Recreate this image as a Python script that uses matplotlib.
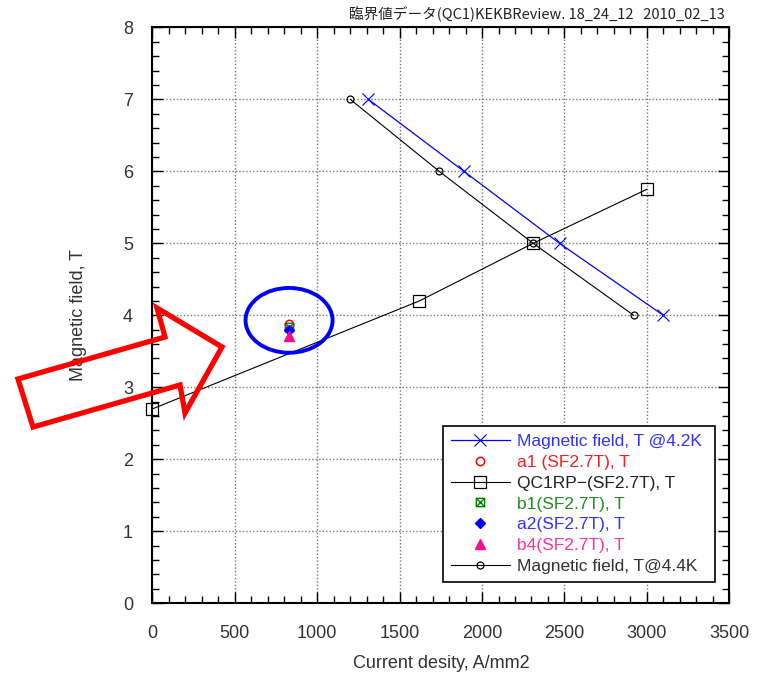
import matplotlib
matplotlib.use('Agg')
import matplotlib.pyplot as plt
from matplotlib.path import Path
from matplotlib.patches import Ellipse, Polygon
from matplotlib.ticker import MultipleLocator

plt.rcParams['font.family'] = ['Liberation Sans', 'Noto Sans CJK JP', 'DejaVu Sans']

# data
j_42 = [1310, 1890, 2470, 3100]
b_42 = [7, 6, 5, 4]
j_44 = [1200, 1740, 2310, 2920]
b_44 = [7, 6, 5, 4]
j_rp = [0, 1620, 2310, 3000]
b_rp = [2.7, 4.2, 5.0, 5.75]
j_pt = 830
b_a1 = 3.88
b_b1 = 3.84
b_a2 = 3.79
b_b4 = 3.71

title = '臨界値データ(QC1)KEKBReview. 18_24_12   2010_02_13'

# square with a cross inside
sqx = Path([(-1, -1), (1, -1), (1, 1), (-1, 1), (-1, -1),
            (-1, -1), (1, 1), (-1, 1), (1, -1)],
           [Path.MOVETO, Path.LINETO, Path.LINETO, Path.LINETO, Path.CLOSEPOLY,
            Path.MOVETO, Path.LINETO, Path.MOVETO, Path.LINETO])

fig = plt.figure(figsize=(7.61, 6.73), dpi=100)
ax = fig.add_axes([0.2003, 0.1036, 0.7580, 0.8558])

ax.plot(j_42, b_42, color='blue', lw=0.9, marker='x', ms=8, mew=0.8,
        label='Magnetic field, T @4.2K')
ax.plot(j_pt, b_a1, ls='none', marker='o', ms=6, mfc='none', mec='red', mew=1.1,
        label='a1 (SF2.7T), T')
ax.plot(j_rp, b_rp, color='black', lw=0.8, marker='s', ms=8, mfc='none', mec='black',
        mew=0.9, clip_on=False, label='QC1RP−(SF2.7T), T')
ax.plot(j_pt, b_b1, ls='none', marker=sqx, ms=6, mfc='none', mec='green', mew=1,
        label='b1(SF2.7T), T')
ax.plot(j_pt, b_a2, ls='none', marker='D', ms=5, color='blue',
        label='a2(SF2.7T), T')
ax.plot(j_pt, b_b4, ls='none', marker='^', ms=7, color='#ff0a8c',
        label='b4(SF2.7T), T')
ax.plot(j_44, b_44, color='black', lw=0.8, marker='o', ms=5, mfc='none', mec='black',
        mew=0.9, label='Magnetic field, T@4.4K')

ax.set_xlim(0, 3500)
ax.set_ylim(0, 8)
ax.xaxis.set_major_locator(MultipleLocator(500))
ax.xaxis.set_minor_locator(MultipleLocator(100))
ax.yaxis.set_major_locator(MultipleLocator(1))
ax.yaxis.set_minor_locator(MultipleLocator(0.2))
ax.tick_params(which='both', direction='in', top=True, right=True, labelsize=13,
               colors='black', labelcolor='#333333')
ax.tick_params(which='major', length=8, width=1)
ax.tick_params(which='minor', length=5, width=1)
ax.tick_params(axis='x', pad=16)
ax.tick_params(axis='y', pad=14)
ax.grid(True, which='major', ls=(0, (1, 1.5)), color='#777777', lw=1)
for s in ax.spines.values():
    s.set_linewidth(1.5)

ax.set_xlabel('Current desity, A/mm2', fontsize=13, color='#333333', labelpad=9)
ax.set_ylabel('Magnetic field, T', fontsize=13, color='#333333', labelpad=26)
fig.text(0.953, 0.979, title, ha='right', va='center', fontsize=10.5,
         family=['Noto Sans CJK JP', 'DejaVu Sans'], color='#222222')

leg = ax.legend(loc='lower left', bbox_to_anchor=(0.504, 0.037, 0.471, 0.27),
                mode='expand', fontsize=12.5, frameon=True, fancybox=False,
                edgecolor='black', framealpha=1, borderpad=0.45, labelspacing=0.33,
                handlelength=3.4, handletextpad=0.4, borderaxespad=0)
leg.get_frame().set_linewidth(1.2)
for txt, c in zip(leg.get_texts(), ['#3333ff', '#ee2222', '#222222', '#228b22',
                                    '#3333ff', '#ff3399', '#333333']):
    txt.set_color(c)

# annotation: circle round the single points, and the red arrow
ax.add_patch(Ellipse((829, 3.93), 528, 0.9, fill=False, ec='blue', lw=2.8,
                     clip_on=False, zorder=5))
arrow_px = [(18, 379), (165, 337), (157, 308), (222, 347), (185, 413), (180, 385), (33, 427)]
arrow = Polygon([(x / 761, 1 - y / 673) for x, y in arrow_px], closed=True, fill=False,
                ec='red', lw=3.8, joinstyle='miter', transform=fig.transFigure, zorder=6)
fig.add_artist(arrow)

fig.savefig('out.png', dpi=100)
